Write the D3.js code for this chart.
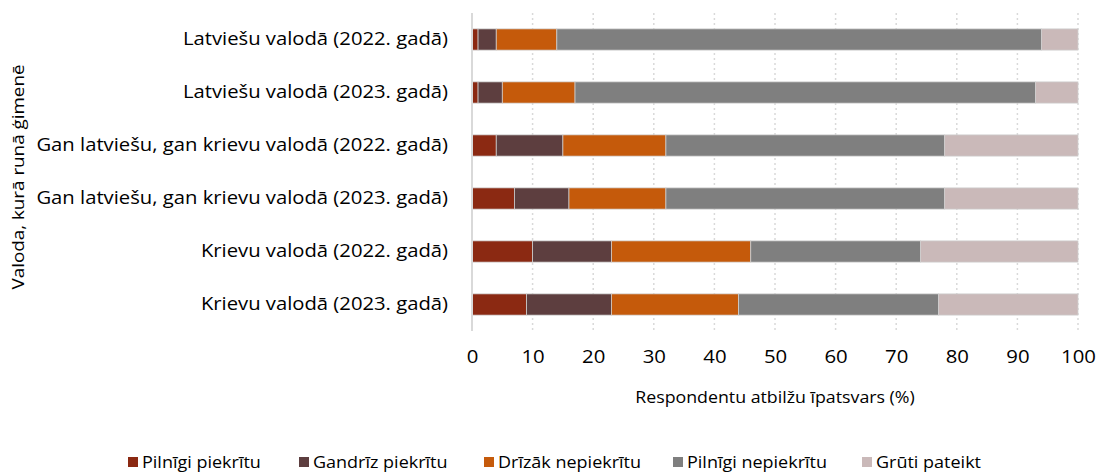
<!DOCTYPE html>
<html><head><meta charset="utf-8">
<script src="https://cdn.jsdelivr.net/npm/d3@7"></script>
<style>body{margin:0;background:#fff;} svg{font-family:"Open Sans",sans-serif;}</style>
</head><body><svg id="c" width="1098" height="473"></svg>
<script>
const categories = ["Latviešu valodā (2022. gadā)","Latviešu valodā (2023. gadā)","Gan latviešu, gan krievu valodā (2022. gadā)","Gan latviešu, gan krievu valodā (2023. gadā)","Krievu valodā (2022. gadā)","Krievu valodā (2023. gadā)"];
const seriesNames = ["Pilnīgi piekrītu","Gandrīz piekrītu","Drīzāk nepiekrītu","Pilnīgi nepiekrītu","Grūti pateikt"];
const pilnigiPiekritu = [1,1,4,7,10,9];
const gandrizPiekritu = [3,4,11,9,13,14];
const drizakNepiekritu = [10,12,17,16,23,21];
const pilnigiNepiekritu = [80,76,46,46,28,33];
const grutiPateikt = [6,7,22,22,26,23];
const xTicks = [0,10,20,30,40,50,60,70,80,90,100];
const colors = ["#8B2912","#5D3E3F","#C55A0B","#7F7F7F","#CAB9B9"];

const seriesVals = [pilnigiPiekritu,gandrizPiekritu,drizakNepiekritu,pilnigiNepiekritu,grutiPateikt];
const rows = categories.map((c,i)=>{const o={cat:c}; seriesNames.forEach((s,j)=>o[s]=seriesVals[j][i]); return o;});
const stack = d3.stack().keys(seriesNames)(rows);

function stretch(sel, k){
  sel.each(function(){ const w=this.getComputedTextLength(); d3.select(this).attr("textLength", w*k).attr("lengthAdjust","spacingAndGlyphs"); });
}

const svg = d3.select("#c");
const pL=472, pR=1078, pT=13, pB=331;
const x = d3.scaleLinear().domain([0,100]).range([pL,pR]);
const y = d3.scaleBand().domain(categories).range([pT,pB]).paddingInner(0.6).paddingOuter(0.3);

// grid
svg.append("g").selectAll("line").data(xTicks.slice(1)).join("line")
  .attr("x1",d=>x(d)).attr("x2",d=>x(d)).attr("y1",pT).attr("y2",pB)
  .attr("stroke","#d9d9d9").attr("stroke-width",1.5).attr("stroke-dasharray","2,3");

svg.append("g").selectAll("g").data(stack).join("g").attr("fill",(d,i)=>colors[i])
 .selectAll("rect").data(d=>d).join("rect")
 .attr("x",d=>x(d[0])).attr("width",d=>x(d[1])-x(d[0]))
 .attr("y",d=>y(d.data.cat)).attr("height",y.bandwidth())
 .attr("stroke","#d0d0d0").attr("stroke-width",0.75);

// y axis line
svg.append("line").attr("x1",pL).attr("x2",pL).attr("y1",pT).attr("y2",pB).attr("stroke","#d9d9d9").attr("stroke-width",2);

// x axis
const xa = svg.append("g").attr("transform",`translate(0,${pB})`).call(d3.axisBottom(x).tickValues(xTicks).tickSize(0).tickPadding(19));
xa.select(".domain").remove();
xa.selectAll("text").attr("font-size",18.5).attr("fill","#000").attr("font-family","Open Sans").call(stretch,1.1);

// y labels
const ya = svg.append("g").attr("transform",`translate(${pL},0)`).call(d3.axisLeft(y).tickSize(0).tickPadding(24));
ya.select(".domain").remove();
ya.selectAll("text").attr("font-size",18.5).attr("fill","#000").attr("font-family","Open Sans").call(stretch,1.094);

svg.append("text").attr("x",(pL+pR)/2).attr("y",403).attr("text-anchor","middle").attr("font-size",16).text("Respondentu atbilžu īpatsvars (%)").call(stretch,1.11);
svg.append("text").attr("transform","translate(24,177) rotate(-90)").attr("text-anchor","middle").attr("font-size",16.5).text("Valoda, kurā runā ģimenē").call(stretch,1.14);

const lx=[128,299,484,673,862];
const lg = svg.append("g").selectAll("g").data(seriesNames).join("g").attr("transform",(d,i)=>`translate(${lx[i]},457)`);
lg.append("rect").attr("width",10).attr("height",10).attr("fill",(d,i)=>colors[i]);
lg.append("text").attr("x",14).attr("y",11).attr("font-size",16.5).text(d=>d).call(stretch,1.09);
</script></body></html>
